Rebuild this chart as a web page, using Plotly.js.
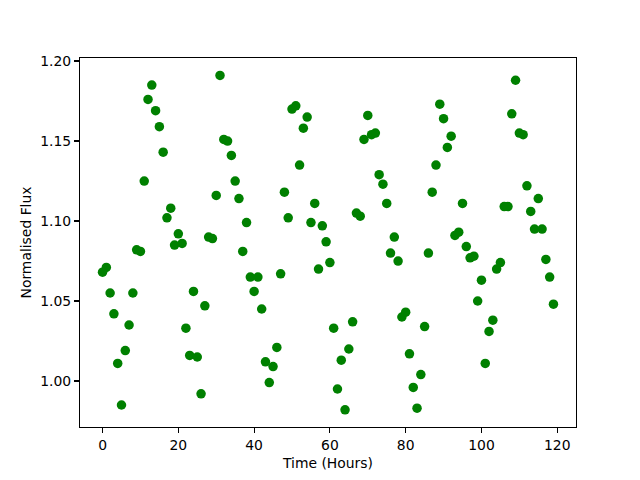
<!DOCTYPE html>
<html>
<head>
<meta charset="utf-8">
<script src="https://cdn.plot.ly/plotly-3.0.1.min.js"></script>
<style>html,body{margin:0;padding:0;background:#fff;}#chart{width:640px;height:480px;}</style>
</head>
<body>
<div id="chart"></div>
<script>
var hours = [];
for (var i = 0; i < 120; i++) hours.push(i);
var flux = [
  1.068, 1.071, 1.055, 1.042, 1.011, 0.985, 1.019, 1.035, 1.055, 1.082,
  1.081, 1.125, 1.176, 1.185, 1.169, 1.159, 1.143, 1.102, 1.108, 1.085,
  1.092, 1.086, 1.033, 1.016, 1.056, 1.015, 0.992, 1.047, 1.090, 1.089,
  1.116, 1.191, 1.151, 1.150, 1.141, 1.125, 1.114, 1.081, 1.099, 1.065,
  1.056, 1.065, 1.045, 1.012, 0.999, 1.009, 1.021, 1.067, 1.118, 1.102,
  1.170, 1.172, 1.135, 1.158, 1.165, 1.099, 1.111, 1.070, 1.097, 1.087,
  1.074, 1.033, 0.995, 1.013, 0.982, 1.020, 1.037, 1.105, 1.103, 1.151,
  1.166, 1.154, 1.155, 1.129, 1.123, 1.111, 1.080, 1.090, 1.075, 1.040,
  1.043, 1.017, 0.996, 0.983, 1.004, 1.034, 1.080, 1.118, 1.135, 1.173,
  1.164, 1.146, 1.153, 1.091, 1.093, 1.111, 1.084, 1.077, 1.078, 1.050,
  1.063, 1.011, 1.031, 1.038, 1.070, 1.074, 1.109, 1.109, 1.167, 1.188,
  1.155, 1.154, 1.122, 1.106, 1.095, 1.114, 1.095, 1.076, 1.065, 1.048
];
var xTicks = [0, 20, 40, 60, 80, 100, 120];
var yTicks = [1.00, 1.05, 1.10, 1.15, 1.20];

var font = {family: 'DejaVu Sans', size: 13.9, color: '#000'};
var trace = {
  x: hours, y: flux, type: 'scatter', mode: 'markers',
  marker: {color: '#008000', size: 9.5, line: {width: 0}},
  hoverinfo: 'none'
};
var layout = {
  width: 640, height: 480,
  margin: {l: 80, r: 64, t: 58, b: 53, pad: 0},
  paper_bgcolor: '#fff', plot_bgcolor: '#fff',
  showlegend: false,
  font: font,
  xaxis: {
    range: [-5.95, 124.95], tickvals: xTicks, ticktext: xTicks.map(String),
    showgrid: false, zeroline: false, showline: true, linecolor: '#000', linewidth: 1.1,
    mirror: true, ticks: 'outside', ticklen: 4.9, tickwidth: 1.1, tickcolor: '#000',
    tickfont: font, title: {text: 'Time (Hours)', font: font, standoff: 6}
  },
  yaxis: {
    range: [0.97125, 1.2019], tickvals: yTicks, ticktext: yTicks.map(function(v){return v.toFixed(2);}),
    showgrid: false, zeroline: false, showline: true, linecolor: '#000', linewidth: 1.1,
    mirror: true, ticks: 'outside', ticklen: 4.9, tickwidth: 1.1, tickcolor: '#000',
    tickfont: font, title: {text: 'Normalised Flux', font: font, standoff: 5}
  }
};
Plotly.newPlot('chart', [trace], layout, {staticPlot: true, displayModeBar: false});
</script>
</body>
</html>
